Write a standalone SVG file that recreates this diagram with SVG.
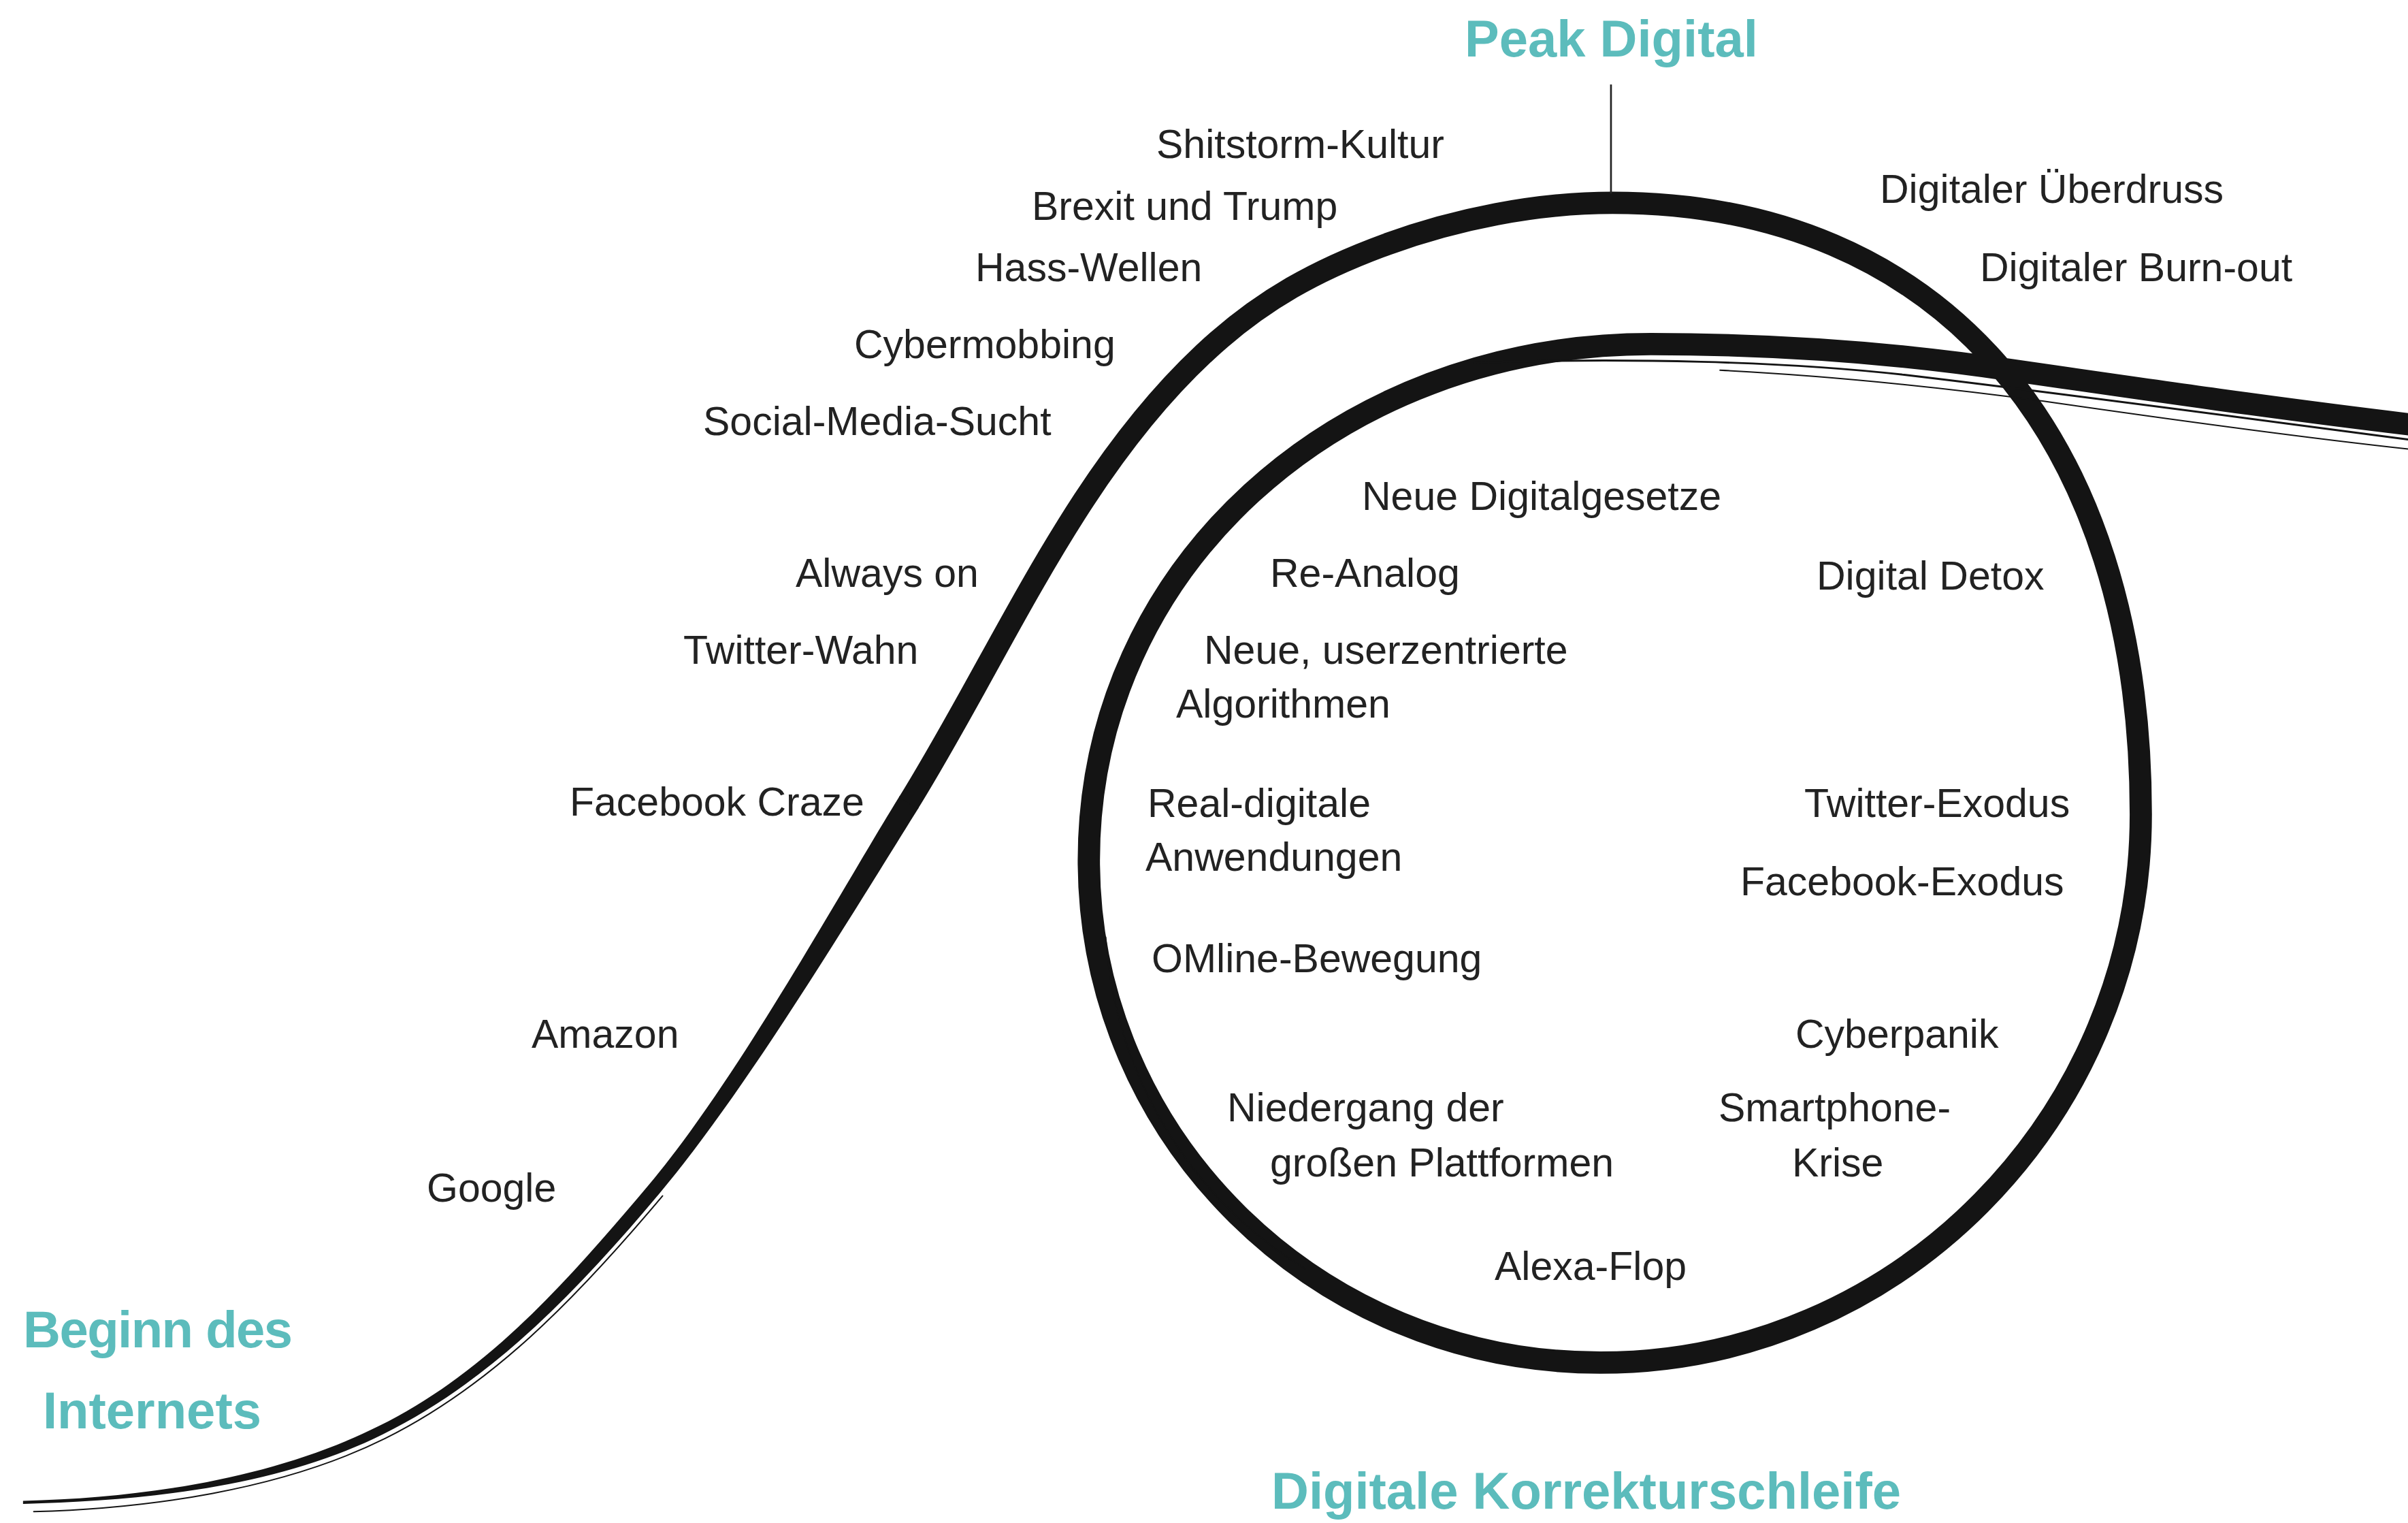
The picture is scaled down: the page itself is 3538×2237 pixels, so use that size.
<svg xmlns="http://www.w3.org/2000/svg" width="3538" height="2237" viewBox="0 0 3538 2237">
<style>
.lbl{font-family:"Liberation Sans","Noto Sans",Arial,sans-serif;font-size:59px;fill:#222}
.ttl{font-family:"Liberation Sans","Noto Sans",Arial,sans-serif;font-size:76px;font-weight:bold;fill:#5cbcbc}
.ink{fill:none;stroke:#141414;stroke-linecap:butt;stroke-linejoin:round}
.inkfill{fill:#141414;stroke:none}
.hair{fill:none;stroke:#141414;stroke-linecap:round}
</style>
<rect width="3538" height="2237" fill="#fff"/>
<g id="connectors" transform="scale(2.2564)">
  <path class="inkfill" d="M15,977 C95,975 178.2,962.3 246.7,928.3 C315.2,894.3 365.3,839.3 422.6,771.1 C479.9,702.9 544.3,585.5 585.8,518.2 L598.2,525.8 C556.1,592.9 486.7,708.7 429.4,776.9 C372.1,845.1 317.8,899.7 249.3,933.7 C180.8,967.7 95,977 15,979 Z"/>
  <path id="curve-main" class="ink" stroke-width="14.5" d="M591.5,522.8 C653,423.5 699.3,309 784,230 C821.7,194.7 858.7,175.2 903,159 C947.3,142.8 1000,132 1050,132 C1263,132 1394,283 1394,530 C1394,727 1236,887 1042,887 C857,887 709,740 709,560 C709,370 870,224 1075,224 C1170,224 1250,232 1310,241 C1400,254 1490,267 1575,277"/>
  <path class="hair" stroke-width="0.9" d="M22,984 C95,982 182.2,970.4 250.7,936.4 C319.2,902.4 374.1,846.7 431.4,778.5"/>
  <path class="hair" stroke-width="1.3" d="M960,236 C1060,233 1160,235 1240,244 C1350,257 1460,272 1575,287"/>
  <path class="hair" stroke-width="0.9" d="M1120,241 C1200,245 1270,253 1330,261 C1420,274 1500,285 1575,293"/>
  <path class="hair" stroke-width="0.8" d="M720,610 C726,700 775,780 850,826"/>
  <line x1="1049" y1="55" x2="1049" y2="126" stroke="#222" stroke-width="1.2"/>
</g>
<g id="title-peak"><text class="ttl" x="2152" y="83">Peak Digital</text></g>
<g id="title-beginn"><text class="ttl" x="34" y="1979" letter-spacing="-1.5">Beginn des</text><text class="ttl" x="63" y="2098">Internets</text></g>
<g id="title-korrektur"><text class="ttl" x="1868" y="2216">Digitale Korrekturschleife</text></g>
<g id="l-shitstorm"><text class="lbl" x="1699" y="232">Shitstorm-Kultur</text></g>
<g id="l-brexit"><text class="lbl" x="1516" y="323">Brexit und Trump</text></g>
<g id="l-hass"><text class="lbl" x="1433" y="413">Hass-Wellen</text></g>
<g id="l-cyber"><text class="lbl" x="1255" y="526">Cybermobbing</text></g>
<g id="l-social"><text class="lbl" x="1033" y="639">Social-Media-Sucht</text></g>
<g id="l-always"><text class="lbl" x="1169" y="862">Always on</text></g>
<g id="l-twitterwahn"><text class="lbl" x="1004" y="975">Twitter-Wahn</text></g>
<g id="l-facebookcraze"><text class="lbl" x="837" y="1198">Facebook Craze</text></g>
<g id="l-amazon"><text class="lbl" x="781" y="1539">Amazon</text></g>
<g id="l-google"><text class="lbl" x="627" y="1765">Google</text></g>
<g id="l-ueberdruss"><text class="lbl" x="2762" y="298">Digitaler Überdruss</text></g>
<g id="l-burnout"><text class="lbl" x="2909" y="413">Digitaler Burn-out</text></g>
<g id="l-gesetze"><text class="lbl" x="2001" y="749">Neue Digitalgesetze</text></g>
<g id="l-reanalog"><text class="lbl" x="1866" y="862">Re-Analog</text></g>
<g id="l-detox"><text class="lbl" x="2669" y="866">Digital Detox</text></g>
<g id="l-algo"><text class="lbl" x="1769" y="975">Neue, userzentrierte</text><text class="lbl" x="1728" y="1054">Algorithmen</text></g>
<g id="l-real"><text class="lbl" x="1686" y="1200">Real-digitale</text><text class="lbl" x="1683" y="1279">Anwendungen</text></g>
<g id="l-twitterexodus"><text class="lbl" x="2651" y="1200">Twitter-Exodus</text></g>
<g id="l-facebookexodus"><text class="lbl" x="2557" y="1315">Facebook-Exodus</text></g>
<g id="l-omline"><text class="lbl" x="1692" y="1428">OMline-Bewegung</text></g>
<g id="l-cyberpanik"><text class="lbl" x="2638" y="1539">Cyberpanik</text></g>
<g id="l-niedergang"><text class="lbl" x="1803" y="1647">Niedergang der</text><text class="lbl" x="1866" y="1728">großen Plattformen</text></g>
<g id="l-smartphone"><text class="lbl" x="2525" y="1647">Smartphone-</text><text class="lbl" x="2633" y="1728">Krise</text></g>
<g id="l-alexa"><text class="lbl" x="2196" y="1880">Alexa-Flop</text></g>
</svg>
